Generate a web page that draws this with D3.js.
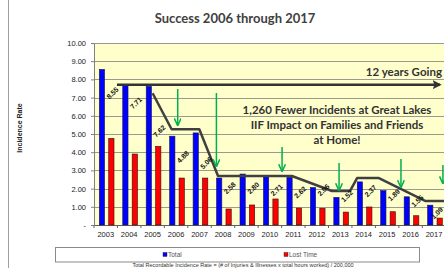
<!DOCTYPE html>
<html>
<head>
<meta charset="utf-8">
<script src="https://cdn.jsdelivr.net/npm/d3@7"></script>
<style>
  body { margin: 0; background: #fff; }
  svg { display: block; }
</style>
</head>
<body>
<svg id="chart" width="444" height="268"></svg>
<script>
// incidence rates
const years = [2003, 2004, 2005, 2006, 2007, 2008, 2009, 2010, 2011, 2012, 2013, 2014, 2015, 2016, 2017];
const totalRate = [8.55, 7.71, 7.62, 4.88, 5.06, 2.58, 2.80, 2.71, 2.62, 2.06, 1.52, 2.37, 1.89, 1.55, 1.09];
const lostTimeRate = [4.76, 3.90, 4.32, 2.58, 2.58, 0.88, 1.10, 1.43, 0.93, 0.92, 0.71, 0.99, 0.73, 0.51, 0.38];
// where the (hand placed) total labels sit, in rate units
const labelAt = [7.25, 6.70, 5.16, 3.74, 3.41, 2.03, 2.03, 1.92, 1.80, 1.92, 1.59, 1.87, 1.65, 1.32, 0.66];
const yTicks = [0, 1, 2, 3, 4, 5, 6, 7, 8, 9, 10];

// annotations drawn on top of the chart: [year position, rate]
const trendLine = [[2005.0, 7.24], [2005.81, 5.26], [2006.99, 5.26], [2007.79, 2.69], [2010.94, 2.69],
  [2012.65, 1.87], [2013.42, 1.87], [2013.72, 2.58], [2014.65, 2.58], [2016.62, 1.32], [2017.6, 1.32]];
const goingArrow = [[2003.48, 7.71], [2017.25, 7.71]];
// [year position, from rate, to rate]
const greenArrows = [[2006.07, 7.47, 5.49], [2007.72, 7.25, 3.24], [2010.52, 4.29, 2.97],
  [2012.95, 3.41, 1.92], [2015.59, 3.63, 2.09], [2017.38, 3.3, 2.3]];
const messageLines = ["1,260 Fewer Incidents at Great Lakes", "IIF Impact on Families and Friends", "at Home!"];

const svg = d3.select("#chart");
const plotL = 94, plotT = 43, plotB = 225, plotR = 445.75;

const x = d3.scaleBand().domain(years).range([plotL, plotR]).padding(0);
const bw = x.bandwidth();
const xSub = d3.scaleBand().domain(["total", "lost"]).range([0.226 * bw, 0.853 * bw]).paddingInner(0.44);
const xPos = d3.scaleLinear().domain([years[0] - 0.5, years[years.length - 1] + 0.5]).range([plotL, plotR]);
const y = d3.scaleLinear().domain([0, 10]).range([plotB, plotT]);

// page edge
svg.append("line").attr("x1", 8.5).attr("x2", 8.5).attr("y1", 0).attr("y2", 268)
  .attr("stroke", "#a0a0a0").attr("stroke-width", 1);

// title
svg.append("text").attr("x", 235).attr("y", 23).attr("text-anchor", "middle")
  .style("font-family", "Lato, 'Open Sans', sans-serif").style("font-weight", "bold")
  .style("font-size", "13px").attr("fill", "#404040")
  .text("Success 2006 through 2017");

// plot background
svg.append("rect").attr("x", plotL).attr("y", plotT).attr("width", plotR - plotL).attr("height", plotB - plotT)
  .attr("fill", "#ffffcc");

// grid
svg.append("g").selectAll("line").data(yTicks.slice(1)).join("line")
  .attr("x1", plotL).attr("x2", plotR)
  .attr("y1", d => Math.round(y(d)) + 0.5).attr("y2", d => Math.round(y(d)) + 0.5)
  .attr("stroke", "#9a9a90").attr("stroke-width", 1);

// y axis
const yAxis = svg.append("g").attr("transform", `translate(${plotL},0)`)
  .call(d3.axisLeft(y).tickValues(yTicks).tickSize(3)
    .tickFormat(d => d === 0 ? "-" : d3.format(".2f")(d)));
yAxis.select(".domain").attr("stroke", "#808080");
yAxis.selectAll(".tick line").attr("stroke", "#808080");
yAxis.selectAll("text").attr("x", -8)
  .style("font-family", "Arial, 'Liberation Sans', sans-serif").style("font-size", "7.5px").attr("fill", "#222");

// x axis
const xAxis = svg.append("g").attr("transform", `translate(0,${plotB})`)
  .call(d3.axisBottom(x).tickSize(0).tickPadding(7));
xAxis.select(".domain").attr("stroke", "#606060");
xAxis.selectAll("text")
  .style("font-family", "Arial, 'Liberation Sans', sans-serif").style("font-size", "7.5px").attr("fill", "#222");
svg.append("g").selectAll("line").data(years).join("line")
  .attr("x1", d => x(d)).attr("x2", d => x(d))
  .attr("y1", plotB).attr("y2", plotB + 3)
  .attr("stroke", "#606060");

// bars
const groups = svg.append("g").selectAll("g").data(years).join("g")
  .attr("transform", d => `translate(${x(d)},0)`);
groups.append("rect")
  .attr("x", xSub("total")).attr("width", xSub.bandwidth())
  .attr("y", (d, i) => y(totalRate[i])).attr("height", (d, i) => plotB - y(totalRate[i]))
  .attr("fill", "#0000ff").attr("stroke", "#1a1a40").attr("stroke-width", 0.6);
groups.append("rect")
  .attr("x", xSub("lost")).attr("width", xSub.bandwidth())
  .attr("y", (d, i) => y(lostTimeRate[i])).attr("height", (d, i) => plotB - y(lostTimeRate[i]))
  .attr("fill", "#ff0000").attr("stroke", "#301010").attr("stroke-width", 0.6);

// markers
const defs = svg.append("defs");
defs.append("marker").attr("id", "headDark").attr("viewBox", "0 0 10 10")
  .attr("refX", 8).attr("refY", 5).attr("markerWidth", 3.6).attr("markerHeight", 3.6)
  .attr("markerUnits", "strokeWidth").attr("orient", "auto")
  .append("path").attr("d", "M0,0 L10,5 L0,10 L2,5 Z").attr("fill", "#333");
defs.append("marker").attr("id", "headGreen").attr("viewBox", "0 0 10 10")
  .attr("refX", 9).attr("refY", 5).attr("markerWidth", 5).attr("markerHeight", 5)
  .attr("markerUnits", "strokeWidth").attr("orient", "auto")
  .append("path").attr("d", "M0,0.5 L10,5 L0,9.5").attr("fill", "none")
  .attr("stroke", "#00b050").attr("stroke-width", 2);

const line = d3.line().x(d => xPos(d[0])).y(d => y(d[1]));

svg.append("path").datum(goingArrow).attr("d", line)
  .attr("fill", "none").attr("stroke", "#333").attr("stroke-width", 2.5)
  .attr("marker-end", "url(#headDark)");
svg.append("path").datum(trendLine).attr("d", line)
  .attr("fill", "none").attr("stroke", "#404040").attr("stroke-width", 2.5)
  .attr("stroke-linejoin", "round");

svg.append("g").selectAll("line").data(greenArrows).join("line")
  .attr("x1", d => xPos(d[0])).attr("x2", d => xPos(d[0]))
  .attr("y1", d => y(d[1])).attr("y2", d => y(d[2]))
  .attr("stroke", "#00b050").attr("stroke-width", 1.5)
  .attr("marker-end", "url(#headGreen)");

// total labels, rotated (the last one sits at the frame edge, pull it in a touch)
svg.append("g").selectAll("text").data(years).join("text")
  .attr("transform", (d, i) => `translate(${Math.min(x(d) + 0.79 * bw, 437)},${y(labelAt[i])}) rotate(-45)`)
  .attr("text-anchor", "middle").attr("dy", "0.35em")
  .style("font-family", "Arial, 'Liberation Sans', sans-serif").style("font-weight", "bold")
  .style("font-size", "7px").attr("fill", "#111")
  .text((d, i) => d3.format(".2f")(totalRate[i]));

// slide call-outs
const calloutFont = "Lato, 'Open Sans', sans-serif";
svg.append("text").attr("x", 442).attr("y", 76).attr("text-anchor", "end")
  .style("font-family", calloutFont).style("font-weight", "bold").style("font-size", "11.5px")
  .attr("fill", "#333").text("12 years Going");
svg.append("g").selectAll("text").data(messageLines).join("text")
  .attr("x", 337).attr("y", (d, i) => 114 + i * 15).attr("text-anchor", "middle")
  .style("font-family", calloutFont).style("font-weight", "bold").style("font-size", "11.5px")
  .attr("fill", "#333").text(d => d);

// y title
svg.append("text").attr("transform", "translate(22,128) rotate(-90)").attr("text-anchor", "middle")
  .style("font-family", "Arial, 'Liberation Sans', sans-serif").style("font-weight", "bold")
  .style("font-size", "7px").attr("fill", "#222").text("Incidence Rate");

// legend
svg.append("rect").attr("x", 55.5).attr("y", 247.5).attr("width", 364).attr("height", 14.5)
  .attr("fill", "#fff").attr("stroke", "#8a8a8a");
const legend = [{ name: "Total", color: "#0000ff", at: 163 }, { name: "Lost Time", color: "#ff0000", at: 284 }];
const leg = svg.append("g").selectAll("g").data(legend).join("g")
  .attr("transform", d => `translate(${d.at},254.5)`);
leg.append("rect").attr("x", 0).attr("y", -2).attr("width", 4).attr("height", 4)
  .attr("fill", d => d.color).attr("stroke", "#222").attr("stroke-width", 0.4);
leg.append("text").attr("x", 5).attr("dy", "0.35em")
  .style("font-family", "Arial, 'Liberation Sans', sans-serif").style("font-size", "6.5px")
  .attr("fill", "#555").text(d => d.name);

// footnote at the bottom edge
svg.append("text").attr("x", 243).attr("y", 267).attr("text-anchor", "middle")
  .style("font-family", "Arial, 'Liberation Sans', sans-serif").style("font-size", "5.5px")
  .attr("fill", "#333")
  .text("Total Recordable Incidence Rate = (# of Injuries & Illnesses x total hours worked) / 200,000");
</script>
</body>
</html>
